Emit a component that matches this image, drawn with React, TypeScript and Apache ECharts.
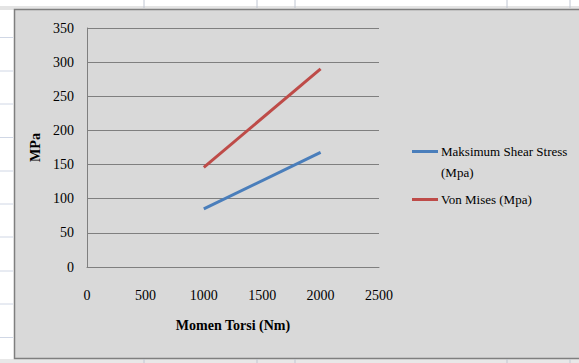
import React, { useEffect, useRef } from "react";
import * as echarts from "echarts";

const torque = [1000, 2000];
const shearStress = [85, 168];
const vonMises = [146, 290];
const seriesNames = ["Maksimum Shear Stress (Mpa)", "Von Mises (Mpa)"];
const colors = ["#4A7EBB", "#BE4B48"];

const FONT = "'Liberation Serif', 'Times New Roman', serif";

export default function App() {
  const ref = useRef<HTMLDivElement>(null);
  useEffect(() => {
    document.body.style.margin = "0";
    if (!ref.current) return;
    const chart = echarts.init(ref.current, null, { renderer: "svg" });
    const sheetLines: any[] = [];
    [37.5, 71, 104, 137.5, 171, 204, 237, 271, 304, 337.5].forEach((y) =>
      sheetLines.push({ type: "line", shape: { x1: 0, y1: y, x2: 13, y2: y }, style: { stroke: "#d0d7e5", lineWidth: 1 }, silent: true })
    );
    [144, 257, 295, 507, 570].forEach((x) => {
      sheetLines.push({ type: "line", shape: { x1: x, y1: 0, x2: x, y2: 8 }, style: { stroke: "#c0c6d2", lineWidth: 1 }, silent: true });
      sheetLines.push({ type: "line", shape: { x1: x, y1: 359, x2: x, y2: 363 }, style: { stroke: "#c0c6d2", lineWidth: 1 }, silent: true });
    });
    chart.setOption({
      animation: false,
      backgroundColor: "#ffffff",
      graphic: [
        { type: "rect", shape: { x: 0, y: 6, width: 579, height: 4 }, style: { fill: "#e4e4e4" }, silent: true, z: -10 },
        { type: "rect", shape: { x: 0, y: 359, width: 579, height: 4 }, style: { fill: "#e8e8e8" }, silent: true, z: -10 },
        ...sheetLines,
        { type: "rect", shape: { x: 14.5, y: 9.5, width: 570, height: 349 }, style: { fill: "#d9d9d9", stroke: "#7f7f7f", lineWidth: 1.5 }, silent: true, z: -5 },
        { type: "text", left: 441, top: 166, style: { text: "(Mpa)", font: `13px ${FONT}`, fill: "#000" }, silent: true },
      ],
      grid: { left: 87, right: 200, top: 28, bottom: 96 },
      legend: {
        left: 412,
        top: 145,
        padding: 0,
        orient: "vertical",
        itemWidth: 26,
        itemHeight: 14,
        itemGap: 35,
        data: seriesNames.map((n, i) => ({ name: n, itemStyle: { color: colors[i] }, icon: "path://M0,6 L26,6 L26,9 L0,9 Z" })),
        formatter: (n: string) => (n.startsWith("Maksimum") ? "Maksimum Shear Stress" : n),
        textStyle: { fontFamily: FONT, fontSize: 13, color: "#000", padding: [0, 0, 0, -2] },
      },
      xAxis: {
        type: "value",
        min: 0,
        max: 2500,
        interval: 500,
        name: "Momen Torsi (Nm)",
        nameLocation: "middle",
        nameGap: 51,
        nameTextStyle: { fontFamily: FONT, fontSize: 14, fontWeight: "bold", color: "#000" },
        axisLine: { show: true, lineStyle: { color: "#7f7f7f", width: 1 } },
        axisTick: { show: false },
        splitLine: { show: false },
        axisLabel: { margin: 21, fontFamily: FONT, fontSize: 14, color: "#000", formatter: (v: number) => String(v) },
      },
      yAxis: {
        type: "value",
        min: 0,
        max: 350,
        interval: 50,
        name: "MPa",
        nameLocation: "middle",
        nameGap: 40,
        nameTextStyle: { fontFamily: FONT, fontSize: 14, fontWeight: "bold", color: "#000" },
        axisLine: { show: true, lineStyle: { color: "#7f7f7f", width: 1 } },
        axisTick: { show: false },
        splitLine: { show: true, lineStyle: { color: "#7f7f7f", width: 1 } },
        axisLabel: { margin: 13, fontFamily: FONT, fontSize: 14, color: "#000" },
      },
      series: [
        {
          name: seriesNames[0],
          type: "line",
          data: torque.map((x, i) => [x, shearStress[i]]),
          showSymbol: false,
          symbol: "none",
          lineStyle: { color: colors[0], width: 3 },
          itemStyle: { color: colors[0] },
        },
        {
          name: seriesNames[1],
          type: "line",
          data: torque.map((x, i) => [x, vonMises[i]]),
          showSymbol: false,
          symbol: "none",
          lineStyle: { color: colors[1], width: 3 },
          itemStyle: { color: colors[1] },
        },
      ],
    });
    return () => chart.dispose();
  }, []);
  return <div ref={ref} style={{ width: 579, height: 363 }} />;
}
